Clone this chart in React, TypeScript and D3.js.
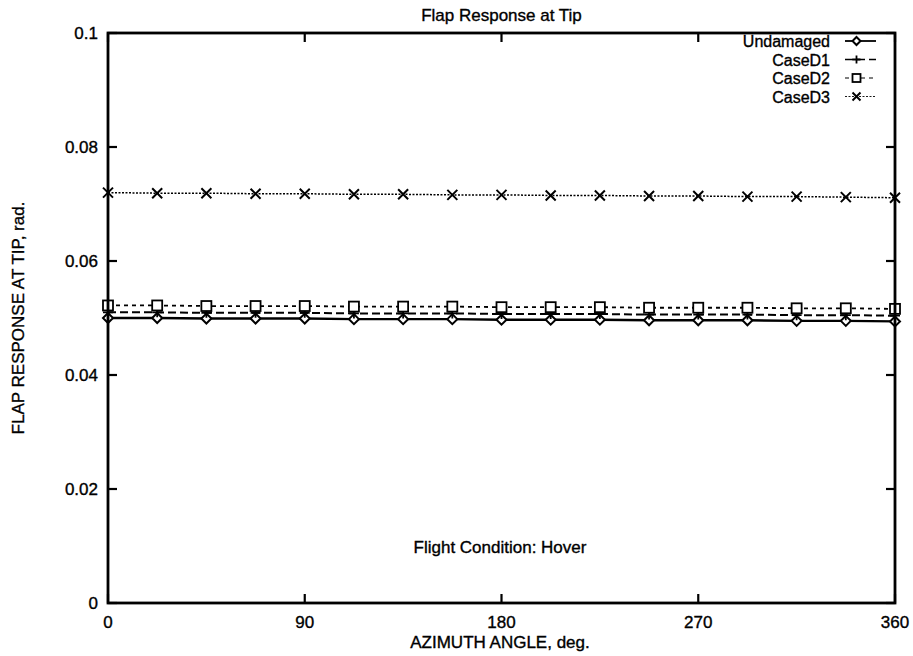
import React from "react";
import * as d3 from "d3";

const azimuth = [0, 22.5, 45, 67.5, 90, 112.5, 135, 157.5, 180, 202.5, 225, 247.5, 270, 292.5, 315, 337.5, 360];
const undamaged = [0.0500, 0.0500, 0.0499, 0.0499, 0.0499, 0.0498, 0.0498, 0.0498, 0.0497, 0.0497, 0.0497, 0.0496, 0.0496, 0.0496, 0.0495, 0.0495, 0.0494];
const caseD1 = [0.0510, 0.0510, 0.0509, 0.0509, 0.0509, 0.0508, 0.0508, 0.0508, 0.0507, 0.0507, 0.0507, 0.0506, 0.0506, 0.0506, 0.0505, 0.0505, 0.0504];
const caseD2 = [0.0522, 0.0522, 0.0521, 0.0521, 0.0521, 0.0520, 0.0520, 0.0520, 0.0519, 0.0519, 0.0519, 0.0518, 0.0518, 0.0518, 0.0517, 0.0517, 0.0516];
const caseD3 = [0.0720, 0.0719, 0.0719, 0.0718, 0.0718, 0.0717, 0.0717, 0.0716, 0.0716, 0.0715, 0.0715, 0.0714, 0.0714, 0.0713, 0.0713, 0.0712, 0.0711];
const seriesNames = ["Undamaged", "CaseD1", "CaseD2", "CaseD3"];
const xTicks = [0, 90, 180, 270, 360];
const yTicks = [0, 0.02, 0.04, 0.06, 0.08, 0.1];
const yTickLabels = ["0", "0.02", "0.04", "0.06", "0.08", "0.1"];

const W = 913, H = 656;
const M = { left: 108, right: 895, top: 33, bottom: 603 };
const FONT = "'Liberation Sans', Arial, Helvetica, sans-serif";
const FS = 17;

type Mk = "diamond" | "plus" | "square" | "cross";

function Marker({ x, y, kind, s = 5 }: { x: number; y: number; kind: Mk; s?: number }) {
  if (kind === "diamond")
    return <path d={`M${x},${y - s}L${x + s},${y}L${x},${y + s}L${x - s},${y}Z`} fill="#fff" stroke="#000" strokeWidth={2} />;
  if (kind === "plus")
    return <path d={`M${x - s},${y}H${x + s}M${x},${y - s}V${y + s}`} stroke="#000" strokeWidth={1.8} />;
  if (kind === "square")
    return <rect x={x - s} y={y - s} width={2 * s} height={2 * s} fill="#fff" stroke="#000" strokeWidth={1.8} />;
  return <path d={`M${x - s},${y - s}L${x + s},${y + s}M${x - s},${y + s}L${x + s},${y - s}`} stroke="#000" strokeWidth={2} />;
}

export default function App() {
  const x = d3.scaleLinear().domain([0, 360]).range([M.left, M.right]);
  const y = d3.scaleLinear().domain([0, 0.1]).range([M.bottom, M.top]);
  const series = [
    { name: seriesNames[0], values: undamaged, dash: "none", width: 2.4, marker: "diamond" as Mk },
    { name: seriesNames[1], values: caseD1, dash: "8,4", width: 2, marker: "plus" as Mk },
    { name: seriesNames[2], values: caseD2, dash: "4,4", width: 1.8, marker: "square" as Mk },
    { name: seriesNames[3], values: caseD3, dash: "2,1.5", width: 1.5, marker: "cross" as Mk },
  ];
  const line = d3.line<number>().x((_, i) => x(azimuth[i])).y((v) => y(v));
  const tickLen = 9;
  const legendTextX = 830;
  const legendLineX0 = 845, legendLineX1 = 876;
  const legendY0 = 41, legendDy = 18.5;
  const txt = { fontSize: FS, stroke: "#000", strokeWidth: 0.35 } as const;

  return (
    <svg width={W} height={H} style={{ position: "absolute", left: 0, top: 0, background: "#fff" }} fontFamily={FONT}>
      <rect width={W} height={H} fill="#fff" />
      <text x={(M.left + M.right) / 2} y={21} textAnchor="middle" {...txt} fontSize={17}>Flap Response at Tip</text>

      {series.map((s) => (
        <g key={s.name}>
          <path d={line(s.values) || ""} fill="none" stroke="#000" strokeWidth={s.width} strokeDasharray={s.dash} />
          {s.values.map((v, i) => (
            <Marker key={i} x={x(azimuth[i])} y={y(v)} kind={s.marker} />
          ))}
        </g>
      ))}

      <rect x={M.left} y={M.top} width={M.right - M.left} height={M.bottom - M.top} fill="none" stroke="#000" strokeWidth={2.8} />

      {yTicks.map((t, i) => (
        <g key={"y" + t}>
          <line x1={M.left} x2={M.left + tickLen} y1={y(t)} y2={y(t)} stroke="#000" strokeWidth={2.2} />
          <line x1={M.right} x2={M.right - tickLen} y1={y(t)} y2={y(t)} stroke="#000" strokeWidth={2.2} />
          <text x={M.left - 10} y={y(t) + 6} textAnchor="end" {...txt}>{yTickLabels[i]}</text>
        </g>
      ))}
      {xTicks.map((t) => (
        <g key={"x" + t}>
          <line x1={x(t)} x2={x(t)} y1={M.bottom} y2={M.bottom - tickLen} stroke="#000" strokeWidth={2.2} />
          <line x1={x(t)} x2={x(t)} y1={M.top} y2={M.top + tickLen} stroke="#000" strokeWidth={2.2} />
          <text x={x(t)} y={628} textAnchor="middle" {...txt}>{t}</text>
        </g>
      ))}

      <text x={500} y={648} textAnchor="middle" {...txt}>AZIMUTH ANGLE, deg.</text>
      <text transform={`translate(24,${(M.top + M.bottom) / 2}) rotate(-90)`} textAnchor="middle" {...txt}>FLAP RESPONSE AT TIP, rad.</text>
      <text x={500} y={553} textAnchor="middle" {...txt}>Flight Condition: Hover</text>

      {series.map((s, i) => {
        const ly = legendY0 + i * legendDy;
        return (
          <g key={"leg" + s.name}>
            <text x={legendTextX} y={ly + 6} textAnchor="end" {...txt} fontSize={16}>{s.name}</text>
            <line x1={legendLineX0} x2={legendLineX1} y1={ly} y2={ly} stroke="#000" strokeWidth={s.width - 0.6} strokeDasharray={s.dash} />
            <Marker x={(legendLineX0 + legendLineX1) / 2 - 4} y={ly} kind={s.marker} s={4} />
          </g>
        );
      })}
    </svg>
  );
}
